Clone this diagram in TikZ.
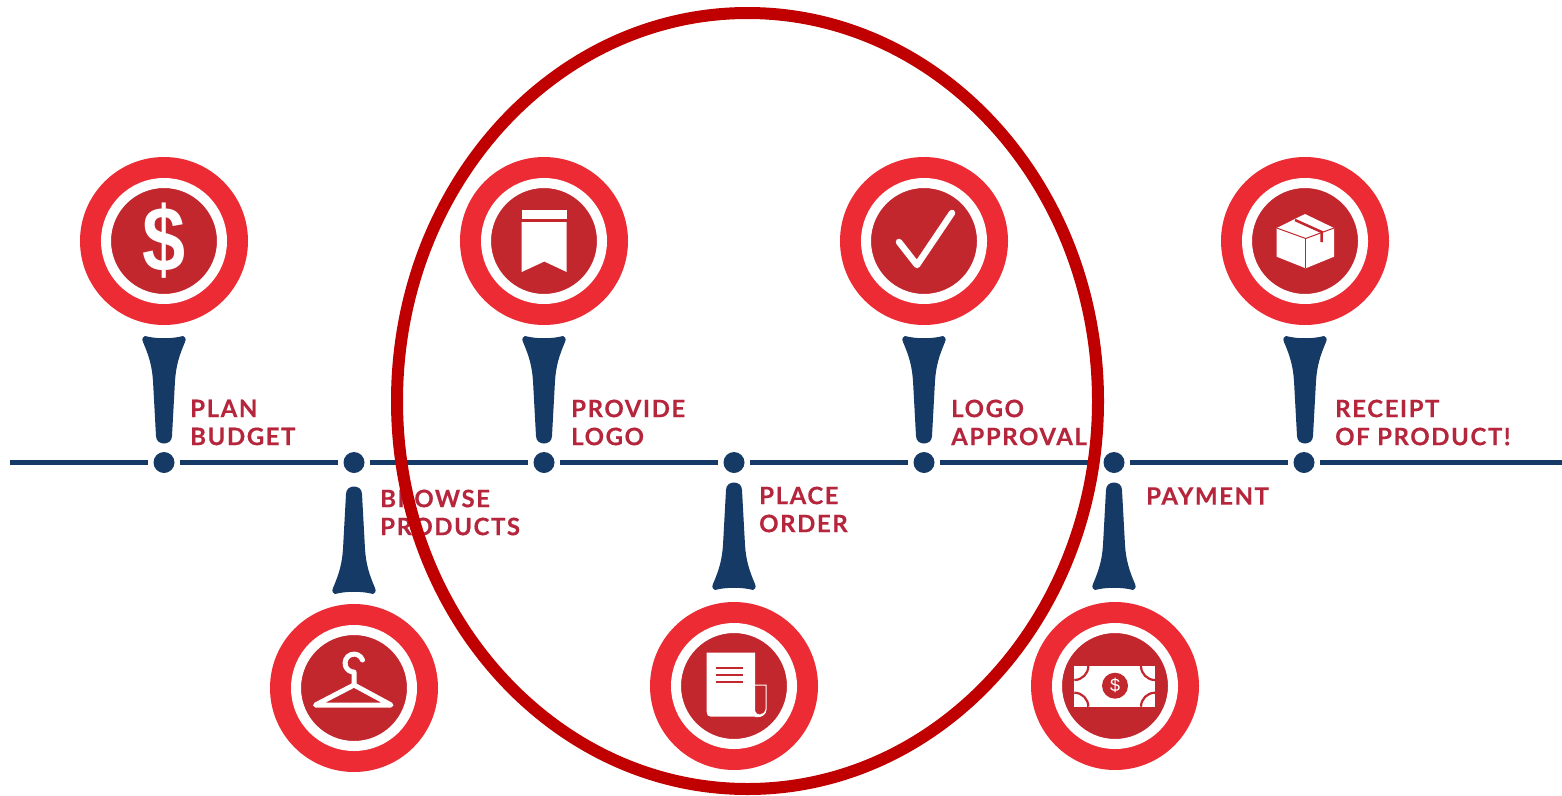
\documentclass[tikz,border=0pt]{standalone}
\usepackage{fontspec}
\setmainfont{Lato}
\newfontfamily\lab[LetterSpace=6.5,BoldFeatures={FakeBold=0.35}]{Lato}
\newfontfamily\sym{Liberation Sans}
\definecolor{ringred}{HTML}{EC2B34}
\definecolor{corered}{HTML}{C1272D}
\definecolor{navy}{HTML}{153A66}
\definecolor{labelred}{HTML}{B5253B}
\definecolor{loopred}{HTML}{C00000}
\tikzset{
  outerdisc/.style={circle,fill=ringred,inner sep=0pt,minimum size=168pt},
  innerdisc/.style={circle,fill=corered,draw=white,line width=10pt,inner sep=0pt,minimum size=116pt},
  dot/.style={circle,fill=navy,inner sep=0pt,minimum size=21pt,outer sep=5.5pt},
  axis/.style={draw=navy,line width=5pt},
  steplabel/.style={anchor=west,align=left,inner sep=0pt,text=labelred,font=\lab\bfseries\fontsize{24}{28}\selectfont},
  iconfill/.style={fill=white,draw=none},
  iconline/.style={draw=white,line width=5pt,line cap=round,line join=round},
  pics/teepin/.style={code={
    \fill[navy] (-19,0) .. controls (-8,3) and (8,3) .. (19,0)
      .. controls (21,0) and (22.5,3) .. (21,6)
      .. controls (15,20) and (12,30) .. (11,45)
      -- (8,100) .. controls (8,110) and (-8,110) .. (-8,100)
      -- (-11,45)
      .. controls (-12,30) and (-15,20) .. (-21,6)
      .. controls (-22.5,3) and (-21,0) .. (-19,0) -- cycle;
  }}
}
\begin{document}
\begin{tikzpicture}[x=1pt,y=-1pt]
\useasboundingbox (0,0) rectangle (1562,795);

% axis
\coordinate (axstart) at (10,462.5);
\coordinate (axend) at (1562,462.5);
\foreach \n/\x in {d1/164,d2/354,d3/544,d4/734,d5/924,d6/1114,d7/1304}
  \node[dot] (\n) at (\x,462.5) {};
\draw[axis] (axstart) -- (d1);
\draw[axis] (d1) -- (d2);
\draw[axis] (d2) -- (d3);
\draw[axis] (d3) -- (d4);
\draw[axis] (d4) -- (d5);
\draw[axis] (d5) -- (d6);
\draw[axis] (d6) -- (d7);
\draw[axis] (d7) -- (axend);

% pins
\pic at (164,336) {teepin};
\pic at (544,336) {teepin};
\pic at (924,336) {teepin};
\pic at (1305,336) {teepin};
\pic[yscale=-1] at (354,594) {teepin};
\pic[yscale=-1] at (734,590) {teepin};
\pic[yscale=-1] at (1114,590) {teepin};

% discs
\foreach \n/\x/\y in {a/164/241,b/354/688,c/544/241,e/734/686,f/924/241,g/1115/686,h/1305/241}{
  \node[outerdisc] (out\n) at (\x,\y) {};
  \node[innerdisc] (in\n) at (\x,\y) {};
}

% dollar
\node[text=white,inner sep=0pt,xscale=.88,yscale=1.05,font=\sym\bfseries\fontsize{88}{88}\selectfont] (dollar) at (164,241) {\$};

% hanger
\draw[iconline] (362.5,660) arc[start angle=-20,end angle=-270,radius=9] -- (354,685) -- (391,705) -- (315.5,705) -- (354,685);

% bookmark
\fill[iconfill] (521.7,210) rectangle (566.7,219);
\fill[iconfill] (521.7,222) -- (566.7,222) -- (566.7,272) -- (544.3,261.5) -- (521.7,272) -- cycle;

% check
\draw[draw=white,line width=6.5pt,line cap=round,line join=round] (899,242) -- (917,265) -- (952,213);

% document
\fill[iconfill] (706.7,652.7) -- (755,652.7) -- (755,716.7) -- (711,716.7) .. controls (708,716.7) and (706.7,715) .. (706.7,712) -- cycle;
\foreach \yy in {668.3,675,681.7} \draw[corered,line width=2pt] (716,\yy) -- (742.7,\yy);
\draw[white,line width=1pt] (755,685) -- (766,685) -- (766,709) .. controls (766,714) and (762,716.7) .. (757,716.7) -- (755,716.7);
\fill[iconfill] (755,711) .. controls (756,714) and (758,714.5) .. (760,714.5) .. controls (763,714.5) and (765,712) .. (766,709) -- (766,711) .. controls (765,715) and (762,716.7) .. (757,716.7) -- (755,716.7) -- cycle;

% banknote
\fill[iconfill] (1074.3,666) rectangle (1155,706.7);
\begin{scope}[corered,line width=2.2pt]
\draw (1088.3,666) arc[start angle=0,end angle=90,radius=14];
\draw (1141,666) arc[start angle=180,end angle=90,radius=14];
\draw (1088.3,706.7) arc[start angle=0,end angle=-90,radius=14];
\draw (1141,706.7) arc[start angle=180,end angle=270,radius=14];
\end{scope}
\node[circle,fill=corered,minimum size=26pt,inner sep=0pt,text=white,font=\sym\fontsize{18}{18}\selectfont] (billmark) at (1115,685.7) {\$};

% box
\fill[iconfill] (1305,214) -- (1334,228) -- (1334,256.7) -- (1305.7,268.3) -- (1276.7,256.7) -- (1276.7,228) -- cycle;
\draw[corered,line width=1pt] (1276.7,228) -- (1305.7,238.5) -- (1334,228);
\draw[corered,line width=1pt] (1305.7,238.5) -- (1305.7,268.3);
\draw[corered,line width=2.5pt] (1295,220) -- (1321.7,232) -- (1321.7,242);

% labels
\node[steplabel] (l1) at (190,422.5) {PLAN\\BUDGET};
\node[steplabel] (l2) at (380,512.5) {BROWSE\\PRODUCTS};
\node[steplabel] (l3) at (571,422.5) {PROVIDE\\LOGO};
\node[steplabel] (l4) at (759,509.5) {PLACE\\ORDER};
\node[steplabel] (l5) at (951,422.5) {LOGO\\APPROVAL};
\node[steplabel] (l6) at (1146,496) {PAYMENT};
\node[steplabel] (l7) at (1335,422.5) {RECEIPT\\OF PRODUCT!};

% highlight loop
\draw[loopred,line width=12pt] (747.5,401) ellipse[x radius=350.5,y radius=388];
\end{tikzpicture}
\end{document}
